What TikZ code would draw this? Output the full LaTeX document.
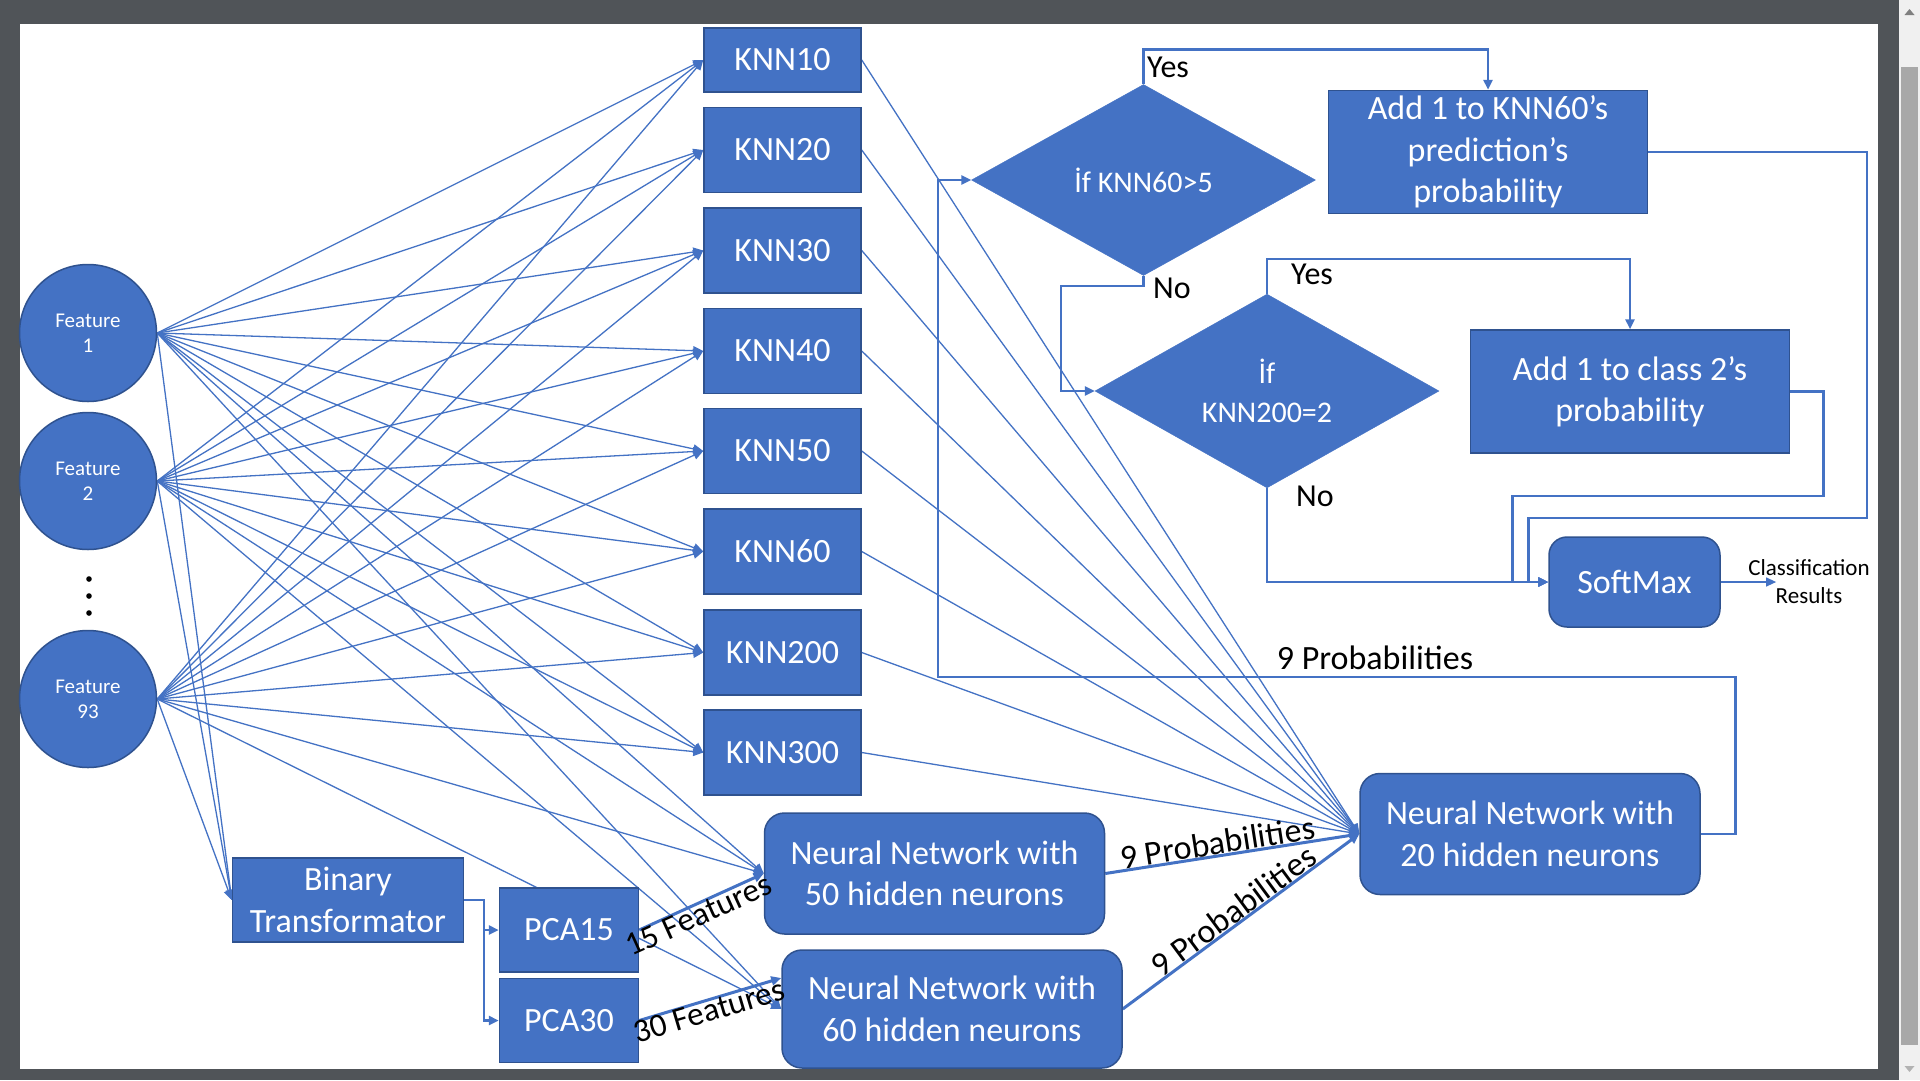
\documentclass[tikz,border=0pt]{standalone}
\usepackage{fontspec}
\setmainfont{Carlito}
\usetikzlibrary{shapes.geometric,arrows.meta,positioning}
\definecolor{ofblue}{HTML}{4472C4}
\definecolor{ofedge}{HTML}{2F528F}
\definecolor{winframe}{HTML}{505458}
\definecolor{scrl}{HTML}{F0F0F0}
\definecolor{thumb}{HTML}{A8A8A8}
\pgfdeclarelayer{bg}
\pgfdeclarelayer{links}
\pgfsetlayers{bg,links,main}
\newcommand{\fsz}[2]{\fontsize{#1}{#2}\selectfont}

\begin{document}
\begin{tikzpicture}[x=1pt,y=-1pt,
  box/.style={rectangle,fill=ofblue,draw=ofedge,line width=1.5pt,text=white,
    inner sep=0pt,align=center,font=\fsz{34}{41.5}},
  rbox/.style={box,rounded corners=20pt,minimum width=340pt,minimum height=121pt},
  knn/.style={box,minimum width=157pt,minimum height=85pt},
  feat/.style={circle,fill=ofblue,draw=ofedge,line width=1.5pt,text=white,
    minimum size=137pt,inner sep=0pt,align=center,font=\fsz{21}{25}},
  test/.style={diamond,fill=ofblue,draw=ofblue,text=white,inner sep=0pt,
    minimum width=344pt,minimum height=191pt,align=center,font=\fsz{30}{39}},
  lbl/.style={inner sep=0pt,text=black,font=\fsz{32}{38}},
  link/.style={draw=ofblue,line width=1.3pt,-{Triangle[length=10pt,width=9pt]}},
  fat/.style={link,line width=3pt},
  flow/.style={link,line width=2.5pt}]
  \useasboundingbox (0,0) rectangle (1920,1080);

  \node[feat] (f1) at (88,333) {Feature\\1};
  \node[feat] (f2) at (88,481) {Feature\\2};
  \node[feat] (f93) at (88,699) {Feature\\93};
  \foreach \y in {579,596,613} \fill (89,\y) circle (2.8pt);

  \node[knn,minimum height=64pt] (knn10) at (782.5,60) {KNN10};
  \foreach \k/\y in {20/150,30/250.5,40/351,50/451,60/551.5,200/652.5,300/752.5}
    \node[knn] (knn\k) at (782.5,\y) {KNN\k};

  \node[box,minimum width=231pt,minimum height=84pt] (bt) at (348,900) {Binary\\Transformator};
  \node[box,minimum width=139pt,minimum height=84pt] (pca15) at (569,930) {PCA15};
  \node[box,minimum width=139pt,minimum height=84pt] (pca30) at (569,1020.5) {PCA30};
  \node[rbox] (nn50) at (934.5,873.5) {Neural Network with\\50 hidden neurons};
  \node[rbox,minimum height=118pt] (nn60) at (952,1009) {Neural Network with\\60 hidden neurons};
  \node[rbox] (nn20) at (1530,834) {Neural Network with\\20 hidden neurons};

  \node[test] (d1) at (1143.5,180) {İf KNN60>5};
  \node[test] (d2) at (1267,391) {İf\\KNN200=2};
  \node[box,minimum width=319pt,minimum height=123pt] (add1) at (1488,152) {Add 1 to KNN60’s\\prediction’s\\probability};
  \node[box,minimum width=319pt,minimum height=123pt] (add2) at (1630,391.5) {Add 1 to class 2’s\\probability};
  \node[box,rounded corners=18pt,minimum width=171pt,minimum height=90pt] (soft) at (1634.5,582) {SoftMax};
  \node[lbl,align=center,font=\fsz{23}{28}] (cls) at (1809,582) {Classification\\Results};

  \node[lbl,anchor=base west] (yes1) at (1147,77.5) {Yes};
  \node[lbl,anchor=base west] (no1) at (1153,298) {No};
  \node[lbl,anchor=base west] (yes2) at (1291,284) {Yes};
  \node[lbl,anchor=base west] (no2) at (1296,506) {No};
  \node[lbl,anchor=base,font=\fsz{34}{40}] (prob) at (1375,669) {9 Probabilities};

  \path (pca15.east) -- node[lbl,sloped,below,pos=0.44,font=\fsz{33}{38}] (feat15) {15 Features} (nn50.west);
  \path (pca30.east) -- node[lbl,sloped,below,pos=0.47,font=\fsz{33}{38}] (feat30) {30 Features} ([yshift=31pt]nn60.west);

  \begin{pgfonlayer}{links}
    \foreach \f in {f1,f2,f93}{
      \foreach \k in {10,20,30,40,50,60,200,300}
        \draw[link] (\f.east) -- (knn\k.west);
      \draw[link] (\f.east) -- (nn50.west);
      \draw[link] (\f.east) -- (nn60.west);
      \draw[link] (\f.east) -- (bt.west);
    }
    \foreach \k in {10,20,30,40,50,60,200,300}
      \draw[link] (knn\k.east) -- (nn20.west);

    \draw[flow] (bt.east) -- ++(19.5,0) |- (pca15.west);
    \draw[flow] (bt.east) -- ++(19.5,0) |- (pca30.west);
    \draw[fat] (pca15.east) -- (nn50.west);
    \draw[fat] (pca30.east) -- ([yshift=31pt]nn60.west);
    \draw[fat] (nn50.east) -- node[lbl,sloped,above,pos=0.45,font=\fsz{34}{40}] (prob50) {9 Probabilities} (nn20.west);
    \draw[fat] (nn60.east) -- node[lbl,sloped,above,font=\fsz{34}{40}] (prob60) {9 Probabilities} (nn20.west);

    \draw[flow] (d1.north) -- ++(0,-35) -| (add1.north);
    \draw[flow] (d1.south) -- ++(0,10.5) -| ([xshift=-34pt]d2.west) -- (d2.west);
    \draw[flow] (d2.north) -- ++(0,-35) -| (add2.north);
    \draw[flow] (d2.south) |- (soft.west);
    \draw[flow] (add2.east) -- ++(33,0) -- ++(0,104.5) -| ([xshift=-36pt]soft.west) -- (soft.west);
    \draw[flow] (add1.east) -- ++(218.5,0) -- ++(0,366) -| ([xshift=-20pt]soft.west) -- (soft.west);
    \draw[link] (soft.east) -- ([xshift=28pt]cls.west);
    \draw[flow] (nn20.east) -- ++(34.5,0) -- ++(0,-157) -| ([xshift=-33.5pt]d1.west) -- (d1.west);
  \end{pgfonlayer}

  \begin{pgfonlayer}{bg}
    \fill[winframe] (0,0) rectangle (1920,1080);
    \fill[white] (20,24) rectangle (1877.5,1069);
    \fill[scrl] (1899,0) rectangle (1920,1080);
    \fill[thumb] (1901,67) rectangle (1918,1045);
    \fill[gray] (1904.5,15) -- (1914.5,15) -- (1909.5,9) -- cycle;
    \fill[gray!60] (1904.5,1066) -- (1914.5,1066) -- (1909.5,1072) -- cycle;
  \end{pgfonlayer}
\end{tikzpicture}
\end{document}
